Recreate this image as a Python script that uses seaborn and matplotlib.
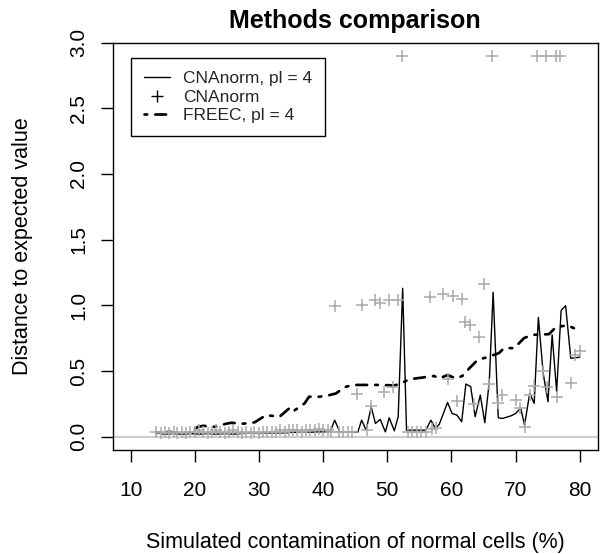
import matplotlib
matplotlib.use("Agg")
import matplotlib.pyplot as plt
from matplotlib.lines import Line2D
import seaborn as sns

# CNAnorm with ploidy fixed to 4 (solid black line)
cna_pl4_x = [14.0, 15.3, 16.7, 18.0, 19.3, 20.7, 22.0, 23.3, 24.7, 26.0, 27.3, 28.7,
             30.0, 31.3, 32.7, 34.0, 35.3, 36.7, 38.0, 39.3, 41.1, 41.8, 42.6, 45.4,
             46.0, 46.7, 47.5, 48.15, 48.9, 49.7, 50.3, 51.1, 51.7, 52.4, 53.0, 56.0,
             56.8, 57.5, 58.1, 59.4, 60.1, 60.85, 61.6, 62.25, 63.0, 63.7, 64.5, 65.2,
             65.9, 66.5, 67.3, 67.95, 69.3, 70.0, 70.8, 71.4, 72.2, 72.9, 73.55, 74.3,
             75.05, 75.7, 76.4, 77.1, 77.8, 78.6, 80.0]
cna_pl4_y = [0.03, 0.02, 0.025, 0.02, 0.025, 0.02, 0.025, 0.02, 0.025, 0.02, 0.025, 0.03,
             0.025, 0.03, 0.03, 0.03, 0.035, 0.035, 0.035, 0.038, 0.038, 0.127, 0.038, 0.035,
             0.127, 0.051, 0.229, 0.102, 0.133, 0.038, 0.145, 0.046, 0.153, 1.13, 0.051, 0.051,
             0.127, 0.064, 0.095, 0.262, 0.178, 0.166, 0.115, 0.402, 0.382, 0.153, 0.318, 0.107,
             0.42, 1.10, 0.145, 0.14, 0.16, 0.178, 0.217, 0.09, 0.331, 0.255, 0.909, 0.484,
             0.267, 0.776, 0.344, 0.962, 0.998, 0.598, 0.606]

# CNAnorm, free ploidy (grey crosses); values above the range were drawn at 2.9
cna_x = [14.0, 14.7, 15.3, 16.0, 16.7, 17.3, 18.0, 18.7, 19.3, 20.0, 20.7, 21.3,
         22.0, 22.7, 23.3, 24.0, 24.7, 25.3, 26.0, 26.7, 27.3, 28.0, 28.7, 29.3,
         30.0, 30.7, 31.3, 32.0, 32.7, 33.3, 34.0, 34.7, 35.3, 36.0, 36.7, 37.3,
         38.0, 38.7, 39.3, 40.0, 40.7, 41.3, 42.4, 43.1, 43.8, 44.5,
         41.8, 45.3, 46.0, 46.8, 47.4, 48.1, 48.9, 49.55, 50.3, 50.85, 51.7, 52.3,
         53.2, 53.9, 54.6, 55.3, 56.0, 56.6, 56.9, 57.6, 58.7, 59.4, 60.2, 60.85,
         61.6, 62.1, 62.9, 63.5, 64.3, 65.1, 65.8, 66.3, 67.3, 67.85, 70.0, 70.7,
         71.4, 72.2, 72.9, 73.3, 74.3, 74.7, 74.9, 76.25, 76.4, 76.9, 78.6, 79.25,
         80.1]
cna_y = [0.04, 0.03, 0.04, 0.03, 0.04, 0.03, 0.04, 0.03, 0.04, 0.04, 0.05, 0.04,
         0.03, 0.04, 0.05, 0.04, 0.03, 0.04, 0.05, 0.04, 0.03, 0.04, 0.03, 0.04,
         0.03, 0.04, 0.04, 0.04, 0.04, 0.05, 0.04, 0.05, 0.05, 0.05, 0.04, 0.05,
         0.05, 0.05, 0.06, 0.05, 0.05, 0.04, 0.04, 0.04, 0.04, 0.04,
         0.998, 0.326, 1.005, 0.05, 0.237, 1.043, 1.02, 0.344, 1.043, 0.382, 1.043, 2.9,
         0.04, 0.04, 0.04, 0.04, 0.04, 1.064, 0.06, 0.064, 1.09, 0.44, 1.074, 0.273,
         1.048, 0.87, 0.85, 0.247, 0.756, 1.163, 0.40, 2.9, 0.26, 0.318, 0.28, 0.217,
         0.077, 0.318, 0.39, 2.9, 0.50, 2.9, 0.38, 2.9, 0.305, 2.9, 0.407, 0.624,
         0.65]

# FREEC with ploidy 4 (thick dot-dash line)
freec_x = [14.0, 16.1, 17.6, 18.9, 20.5, 21.3, 23.1, 24.9, 25.7, 27.5, 29.3, 31.1,
           33.2, 34.7, 35.2, 37.1, 37.8, 39.4, 41.0, 42.0, 43.3, 44.6, 46.4, 49.3,
           51.1, 52.7, 53.4, 55.3, 57.3, 58.1, 59.4, 60.7, 61.7, 62.8, 64.1, 65.6,
           67.4, 68.2, 69.8, 71.3, 72.6, 75.2, 76.3, 78.05, 79.1]
freec_y = [0.03, 0.038, 0.025, 0.03, 0.076, 0.084, 0.076, 0.10, 0.107, 0.10, 0.11, 0.165,
           0.153, 0.216, 0.19, 0.254, 0.305, 0.305, 0.318, 0.33, 0.377, 0.395, 0.395, 0.395,
           0.39, 0.42, 0.438, 0.45, 0.463, 0.445, 0.47, 0.445, 0.463, 0.522, 0.586, 0.606,
           0.637, 0.675, 0.675, 0.751, 0.776, 0.781, 0.835, 0.848, 0.827]

x_ticks = [10, 20, 30, 40, 50, 60, 70, 80]
y_ticks = [0.0, 0.5, 1.0, 1.5, 2.0, 2.5, 3.0]

sns.set_theme(style="white")
plt.rcParams['font.family'] = ['Liberation Sans', 'DejaVu Sans']

W, H = 600, 554
fig = plt.figure(figsize=(W / 100, H / 100), dpi=100)
ax = fig.add_axes([112.7 / W, 1 - 450 / H, 485 / W, 407.5 / H])

dotdash = (0, (1, 3, 4, 3))

ax.axhline(0, color='#cccccc', lw=1.5, zorder=1)
sns.lineplot(x=cna_pl4_x, y=cna_pl4_y, ax=ax, color='black', lw=1.0,
             sort=False, estimator=None, zorder=2)
sns.lineplot(x=freec_x, y=freec_y, ax=ax, color='black', lw=1.94,
             linestyle=dotdash, dash_capstyle='round',
             sort=False, estimator=None, zorder=3)
sns.scatterplot(x=cna_x, y=cna_y, ax=ax, marker='+', color='#aaaaaa',
                s=70, linewidth=1.1, zorder=4)

ax.set_xlim(7.2, 82.8)
ax.set_ylim(-0.1, 3.0)
ax.set_xticks(x_ticks)
ax.set_xticklabels([str(t) for t in x_ticks])
ax.set_yticks(y_ticks)
ax.set_yticklabels([f"{t:.1f}" for t in y_ticks])

for s in ax.spines.values():
    s.set_color('black')
    s.set_linewidth(1.0)
    s.set_visible(True)

ax.tick_params(axis='both', which='major', bottom=True, left=True,
               direction='out', length=8.6, width=1.0, color='black',
               labelsize=15, labelcolor='black')
ax.tick_params(axis='x', pad=13.5)
ax.tick_params(axis='y', pad=9)
plt.setp(ax.get_yticklabels(), rotation=90, va='center')
ax.set_xlabel('')
ax.set_ylabel('')
ax.grid(False)

handles = [
    Line2D([], [], color='black', lw=1.0, label='CNAnorm, pl = 4'),
    Line2D([], [], color='black', marker='+', linestyle='none',
           markersize=8, markeredgewidth=1.0, label='CNAnorm'),
    Line2D([], [], color='black', lw=1.94, linestyle=dotdash,
           dash_capstyle='round', label='FREEC, pl = 4'),
]
leg = ax.legend(handles=handles, loc='upper left',
                bbox_to_anchor=((131 - 112.7) / 485, (450 - 57.7) / 407.5),
                borderaxespad=0, fontsize=12.5, frameon=True, fancybox=False,
                edgecolor='black', framealpha=1, handlelength=1.5,
                handletextpad=0.75, borderpad=0.75, labelspacing=0.21)
leg.get_frame().set_linewidth(1.0)

fig.text(355.2 / W, 1 - 28 / H, 'Methods comparison', ha='center',
         va='baseline', fontsize=18, fontweight='bold', color='black')
fig.text(355.2 / W, 1 - 548 / H, 'Simulated contamination of normal cells (%)',
         ha='center', va='baseline', fontsize=15.5, color='black')
fig.text(23 / W, 1 - 246.25 / H, 'Distance to expected value', rotation=90,
         ha='center', va='center', fontsize=15.5, color='black')

fig.savefig('out.png', dpi=100, facecolor='white')
